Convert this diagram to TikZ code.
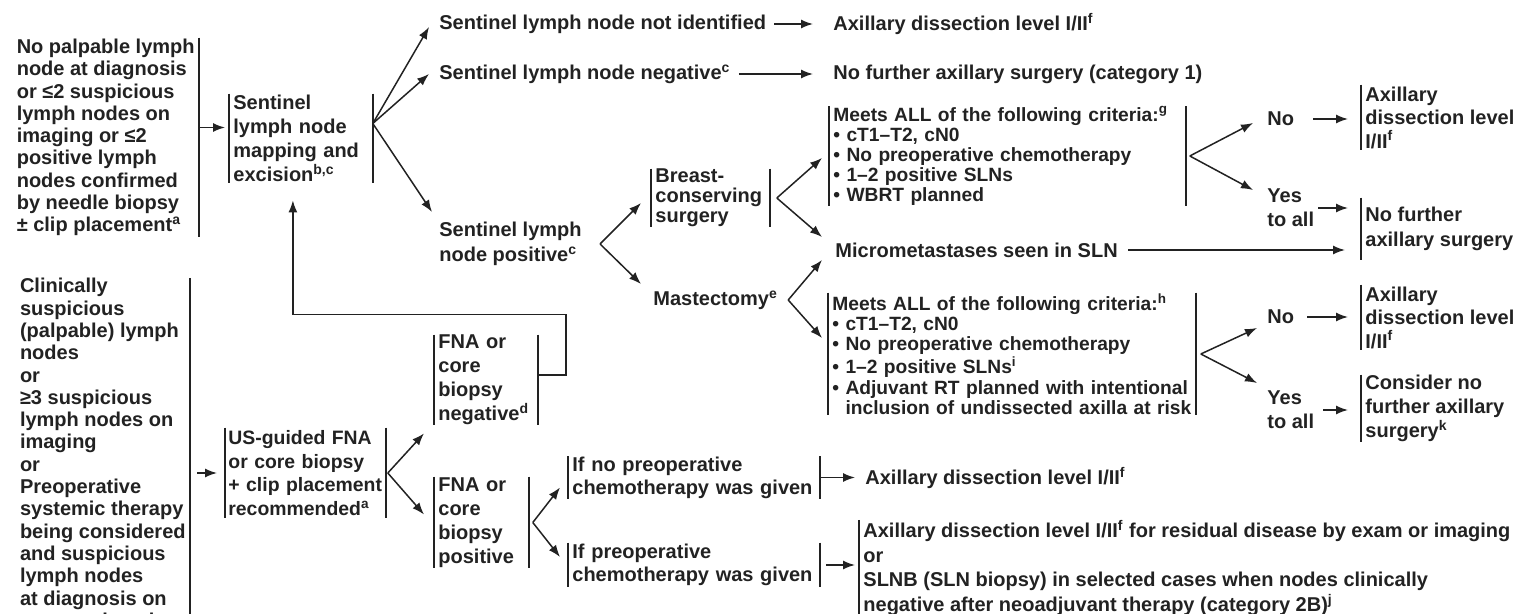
\documentclass[tikz,border=0pt]{standalone}
\usepackage{fontspec}
\setmainfont{Liberation Sans}
\usepackage{xcolor}
\usepackage{tikz}
\usetikzlibrary{arrows.meta}

\definecolor{ink}{HTML}{222222}
\newcommand{\fs}[2]{\fontsize{#1pt}{#2pt}\selectfont\bfseries}
\newcommand{\boxl}[1]{\draw[bar] (#1.north west) -- (#1.south west);}
\newcommand{\boxr}[1]{\draw[bar] (#1.north east) -- (#1.south east);}
\newcommand{\boxlr}[1]{\boxl{#1}\boxr{#1}}

\tikzset{
  txt/.style={font=\fs{10}{12}, align=left, inner xsep=2pt, inner ysep=0pt, text=ink},
  lsk/.style 2 args={font=\fs{#1}{#2}},
  bar/.style={draw=ink, line width=0.85pt},
  arr/.style={draw=ink, line width=0.75pt, -{Latex[length=6pt,width=4.5pt]}},
}

\begin{document}
\begin{tikzpicture}[x=0.5pt,y=-0.5pt]
        \useasboundingbox (0,0) rectangle (1519,614);
        \clip (0,0) rectangle (1519,614);

        % left column
        \node[txt, lsk={10}{11.15}, anchor=east, minimum height=99.5pt] (nopalp) at (199,137.5) {No palpable lymph\\node at diagnosis\\or ≤2 suspicious\\lymph nodes on\\imaging or ≤2\\positive lymph\\nodes confirmed\\by needle biopsy\\± clip placement\textsuperscript{a}};
        \node[txt, lsk={10}{11.15}, anchor=north east] (clin) at (190,278) {Clinically\\suspicious\\(palpable) lymph\\nodes\\or\\≥3 suspicious\\lymph nodes on\\imaging\\or\\Preoperative\\systemic therapy\\being considered\\and suspicious\\lymph nodes\\at diagnosis on\\exam or imaging};
        \boxr{nopalp}
        \boxr{clin}

        \node[txt, anchor=west, text width=67.5pt, minimum height=44.5pt] (map) at (229,138.5) {Sentinel\\lymph node\\mapping and\\excision\textsuperscript{b,c}};
        \boxlr{map}
        \node[txt, lsk={9.7}{11.85}, inner xsep=1.5pt, anchor=west, text width=77pt, minimum height=45pt] (us) at (225,473) {US-guided FNA\\or core biopsy\\+ clip placement\\recommended\textsuperscript{a}};
        \boxlr{us}

        % sentinel node results
        \node[txt, anchor=west] (nid) at (435,24) {Sentinel lymph node not identified};
        \node[txt, anchor=west] (nidr) at (829,24) {Axillary dissection level I/II\textsuperscript{f}};
        \node[txt, anchor=west] (neg) at (435,74) {Sentinel lymph node negative\textsuperscript{c}};
        \node[txt, anchor=west] (negr) at (829,74) {No further axillary surgery (category 1)};
        \node[txt, lsk={10}{12.5}, anchor=west] (pos) at (435,244) {Sentinel lymph\\node positive\textsuperscript{c}};

        \node[txt, lsk={10}{10}, anchor=west, text width=55pt, minimum height=29pt] (bcs) at (651,198) {Breast-\\conserving\\surgery};
        \boxlr{bcs}
        \node[txt, anchor=west] (mast) at (649,300) {Mastectomy\textsuperscript{e}};

        \node[txt, lsk={9.6}{10}, anchor=west, text width=174pt, minimum height=49pt] (critg) at (829,156) {Meets ALL of the following criteria:\textsuperscript{g}\\• cT1–T2, cN0\\• No preoperative chemotherapy\\• 1–2 positive SLNs\\• WBRT planned};
        \boxlr{critg}
        \node[txt, anchor=west] (micro) at (831,250) {Micrometastases seen in SLN};
        \node[txt, lsk={9.6}{10.1}, anchor=west, text width=179.5pt, minimum height=61pt] (crith) at (828,354) {Meets ALL of the following criteria:\textsuperscript{h}\\• cT1–T2, cN0\\• No preoperative chemotherapy\\• 1–2 positive SLNs\textsuperscript{i}\\• Adjuvant RT planned with intentional\\\phantom{• }inclusion of undissected axilla at risk};
        \boxlr{crith}

        % right column
        \node[txt, anchor=west] (no1) at (1263,119) {No};
        \node[txt, lsk={10}{12}, anchor=west] (yes1) at (1263,208) {Yes\\to all};
        \node[txt, anchor=west] (no2) at (1263,317) {No};
        \node[txt, lsk={10}{12}, anchor=west] (yes2) at (1263,410) {Yes\\to all};

        \node[txt, lsk={10}{11.75}, anchor=west, minimum height=32.5pt] (ax1) at (1361,117.5) {Axillary\\dissection level\\I/II\textsuperscript{f}};
        \node[txt, lsk={10}{12.5}, anchor=west, minimum height=31pt] (nfas) at (1361,229) {No further\\axillary surgery};
        \node[txt, lsk={10}{11.75}, anchor=west, minimum height=32.5pt] (ax2) at (1361,317.5) {Axillary\\dissection level\\I/II\textsuperscript{f}};
        \node[txt, lsk={10}{12}, anchor=west, minimum height=33.5pt] (cons) at (1361,408.5) {Consider no\\further axillary\\surgery\textsuperscript{k}};
        \boxl{ax1}
        \boxl{nfas}
        \boxl{ax2}
        \boxl{cons}

        % needle biopsy branch
        \node[txt, anchor=west, text width=47.5pt, minimum height=45pt] (fnaneg) at (434,380) {FNA or\\core\\biopsy\\negative\textsuperscript{d}};
        \node[txt, anchor=west, text width=43pt, minimum height=45.5pt] (fnapos) at (434,522.5) {FNA or\\core\\biopsy\\positive};
        \boxlr{fnaneg}
        \boxlr{fnapos}
        \node[txt, lsk={10}{11.5}, anchor=west, text width=121.5pt, minimum height=20.5pt] (ifno) at (568,477.5) {If no preoperative\\chemotherapy was given};
        \node[txt, lsk={10}{11.5}, anchor=west, text width=121.5pt, minimum height=22pt] (ifpre) at (568,565) {If preoperative\\chemotherapy was given};
        \boxlr{ifno}
        \boxlr{ifpre}
        \node[txt, anchor=west] (axb) at (861,478) {Axillary dissection level I/II\textsuperscript{f}};
        \node[txt, lsk={10}{12.3}, anchor=west, minimum height=45pt] (resid) at (859,568) {Axillary dissection level I/II\textsuperscript{f} for residual disease by exam or imaging\\or\\SLNB (SLN biopsy) in selected cases when nodes clinically\\negative after neoadjuvant therapy (category 2B)\textsuperscript{j}};
        \boxl{resid}

        % connectors
        \coordinate (m0) at ([yshift=5.5pt]map.west);
        \draw[arr, shorten >=2pt] (nopalp.east |- m0) -- (m0);
        \draw[arr, shorten <=3.5pt, shorten >=4pt] (clin.east |- us.west) -- (us.west);

        \coordinate (mapb) at ([yshift=7.5pt]map.east);
        \draw[arr] (mapb) -- ([xshift=-3pt,yshift=-1.5pt]nid.west);
        \draw[arr] (mapb) -- ([xshift=-3pt]neg.west);
        \draw[arr] (mapb) -- ([xshift=-1.5pt,yshift=16pt]pos.west);
        \draw[arr, shorten <=2pt, shorten >=8pt] (nid.east) -- (nidr.west);
        \draw[arr, shorten <=2pt, shorten >=8pt] (neg.east) -- (negr.west);

        \coordinate (posb) at ([xshift=7pt]pos.east);
        \draw[arr] (posb) -- ([xshift=-5pt,yshift=-2.5pt]bcs.west);
        \draw[arr] (posb) -- ([xshift=-4pt,yshift=8pt]mast.west);

        \coordinate (bcsb) at ([xshift=3.5pt]bcs.east);
        \draw[arr] (bcsb) -- ([xshift=-3.5pt,yshift=-1pt]critg.west);
        \draw[arr] (bcsb) -- ([xshift=-4.5pt,yshift=6.5pt]micro.west);
        \coordinate (mastb) at ([xshift=3pt]mast.east);
        \draw[arr] (mastb) -- ([xshift=-4.5pt,yshift=-5pt]micro.west);
        \draw[arr] (mastb) -- ([xshift=-3pt,yshift=8pt]crith.west);
        \draw[arr, shorten <=3pt, shorten >=8pt] (micro.east) -- (micro.east -| nfas.west);

        \coordinate (gb) at ([xshift=2pt]critg.east);
        \draw[arr] (gb) -- ([xshift=-5pt,yshift=-2pt]no1.west);
        \draw[arr] (gb) -- ([xshift=-5pt,yshift=9pt]yes1.west);
        \draw[arr, shorten <=7.5pt, shorten >=6.5pt] (no1.east) -- (no1.east -| ax1.west);
        \draw[arr, shorten >=6.5pt] (yes1.east) -- (yes1.east -| nfas.west);

        \coordinate (hb) at ([xshift=2.5pt]crith.east);
        \draw[arr] (hb) -- ([xshift=-3pt,yshift=-5.5pt]no2.west);
        \draw[arr] (hb) -- ([xshift=-3pt,yshift=13.5pt]yes2.west);
        \draw[arr, shorten <=4.5pt, shorten >=6.5pt] (no2.east) -- (no2.east -| ax2.west);
        \draw[arr, shorten <=2.5pt, shorten >=6.5pt] (yes2.east) -- (yes2.east -| cons.west);

        \coordinate (usb) at ([xshift=1pt]us.east);
        \draw[arr] (usb) -- ([xshift=-5pt,yshift=-4pt]fnaneg.south west);
        \draw[arr] (usb) -- ([xshift=-5pt,yshift=4pt]fnapos.west);

        \coordinate (fnup) at ([yshift=10pt]fnaneg.north);
        \coordinate (fb) at ([xshift=-4pt,yshift=-8.5pt]map.south);
        \draw[arr] ([yshift=2.5pt]fnaneg.east) -- ++(14pt,0) |- (fnup) -| (fb);

        \coordinate (fpb) at ([xshift=2pt]fnapos.east);
        \draw[arr] (fpb) -- ([xshift=-4pt,yshift=-5pt]ifno.west);
        \draw[arr] (fpb) -- ([xshift=-4pt,yshift=4pt]ifpre.west);
        \draw[arr, shorten >=3pt] (ifno.east) -- (ifno.east -| axb.west);
        \draw[arr, shorten <=3pt, shorten >=2pt] (ifpre.east) -- (ifpre.east -| resid.west);
\end{tikzpicture}
\end{document}
